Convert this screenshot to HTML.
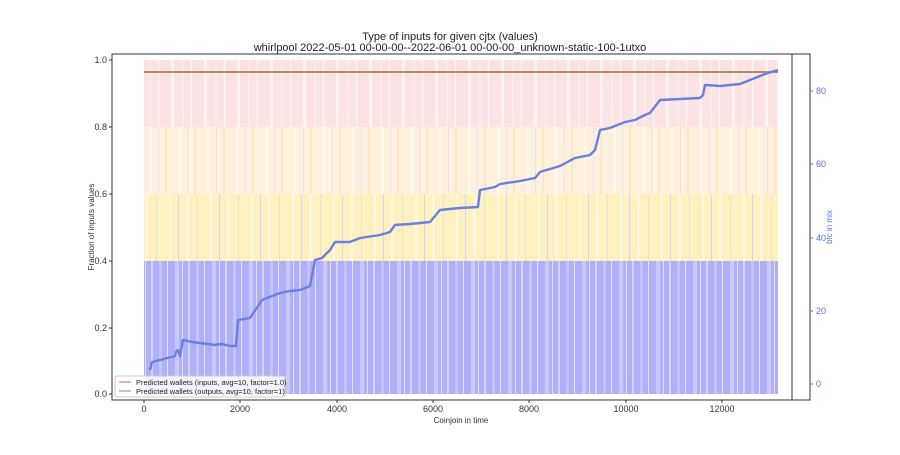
<!DOCTYPE html>
<html><head><meta charset="utf-8"><style>
body{margin:0;background:#fff;}
svg{font-family:"Liberation Sans","DejaVu Sans",sans-serif;}
</style></head><body>
<svg width="900" height="450" viewBox="0 0 900 450" xmlns="http://www.w3.org/2000/svg">
<defs>
<pattern id="pb" width="37" height="10" patternUnits="userSpaceOnUse">
<rect width="37" height="10" fill="#b0b0fa"/>
<rect x="3" width="2" height="10" fill="#d4d4fb"/><rect x="11" width="3" height="10" fill="#c4c4fb"/>
<rect x="19" width="1" height="10" fill="#e4e4fd"/><rect x="27" width="4" height="10" fill="#c8c8fb"/><rect x="34" width="1" height="10" fill="#e0e0fd"/>
</pattern>
<pattern id="py" width="41" height="10" patternUnits="userSpaceOnUse">
<rect width="41" height="10" fill="#fdf1c0"/>
<rect x="5" width="2" height="10" fill="#fdf8e0"/><rect x="14" width="1" height="10" fill="#d8d4ef"/>
<rect x="22" width="3" height="10" fill="#fbf6dc"/><rect x="33" width="1" height="10" fill="#eae2d0"/>
</pattern>
<pattern id="po" width="29" height="10" patternUnits="userSpaceOnUse">
<rect width="29" height="10" fill="#fdf0dc"/>
<rect x="4" width="3" height="10" fill="#fff8ea"/><rect x="13" width="1" height="10" fill="#e8e2f5"/>
<rect x="20" width="2" height="10" fill="#fbe6c8"/>
</pattern>
<pattern id="pp" width="33" height="10" patternUnits="userSpaceOnUse">
<rect width="33" height="10" fill="#fbe3e3"/>
<rect x="6" width="3" height="10" fill="#fdf1f1"/><rect x="17" width="2" height="10" fill="#fcebeb"/>
<rect x="26" width="1" height="10" fill="#fff8f8"/>
</pattern>
</defs>
<text x="450" y="40" font-size="11" text-anchor="middle" fill="#222">Type of inputs for given cjtx (values)</text>
<text x="450" y="51" font-size="11" text-anchor="middle" fill="#222">whirlpool 2022-05-01 00-00-00--2022-06-01 00-00-00_unknown-static-100-1utxo</text>
<rect x="144" y="60" width="634" height="67" fill="url(#pp)"/>
<rect x="144" y="127" width="634" height="67" fill="url(#po)"/>
<rect x="144" y="194" width="634" height="67" fill="url(#py)"/>
<rect x="144" y="261" width="634" height="133" fill="url(#pb)"/>
<line x1="144" y1="72" x2="778" y2="72" stroke="#a08050" stroke-width="1.8"/>
<polyline fill="none" stroke="#6a80e0" stroke-width="2.4" stroke-linejoin="round" points="150,370 152,362 160,360 175,356 176,352 178,350 180,356 183,340 192,342 200,343 215,345 222,344 230,346 236,346 238,320 250,318 262,300 280,293 290,291 300,290 310,286 315,260 322,258 330,250 335,242 350,242 360,238 380,235 390,232 395,225 410,224 430,222 440,210 460,208 478,207 480,190 495,187 500,184 520,181 535,178 540,172 560,166 575,158 590,155 595,150 600,130 610,128 625,122 635,120 645,115 650,113 660,100 680,99 700,98 703,95 705,85 720,86 740,84 745,82 760,76 765,74 778,70"/>
<rect x="112" y="54" width="698" height="346" fill="none" stroke="#333" stroke-width="1"/>
<line x1="792" y1="54" x2="792" y2="400" stroke="#333" stroke-width="1"/>
<g font-size="9" fill="#333" text-anchor="end">
<text x="107" y="63">1.0</text><line x1="109" y1="60" x2="112" y2="60" stroke="#333"/>
<text x="107" y="130">0.8</text><line x1="109" y1="127" x2="112" y2="127" stroke="#333"/>
<text x="107" y="197">0.6</text><line x1="109" y1="194" x2="112" y2="194" stroke="#333"/>
<text x="107" y="264">0.4</text><line x1="109" y1="261" x2="112" y2="261" stroke="#333"/>
<text x="107" y="331">0.2</text><line x1="109" y1="328" x2="112" y2="328" stroke="#333"/>
<text x="107" y="397">0.0</text><line x1="109" y1="394" x2="112" y2="394" stroke="#333"/>
</g>
<text x="94" y="227" font-size="8" fill="#333" text-anchor="middle" transform="rotate(-90 94 227)">Fraction of inputs values</text>
<g font-size="9" fill="#333" text-anchor="middle">
<text x="144" y="412">0</text><text x="240" y="412">2000</text><text x="337" y="412">4000</text>
<text x="433" y="412">6000</text><text x="529" y="412">8000</text><text x="626" y="412">10000</text><text x="722" y="412">12000</text>
<text x="461" y="423" font-size="8">Coinjoin in time</text>
</g>
<g stroke="#333"><line x1="144" y1="400" x2="144" y2="403"/><line x1="240" y1="400" x2="240" y2="403"/><line x1="337" y1="400" x2="337" y2="403"/><line x1="433" y1="400" x2="433" y2="403"/><line x1="529" y1="400" x2="529" y2="403"/><line x1="626" y1="400" x2="626" y2="403"/><line x1="722" y1="400" x2="722" y2="403"/></g>
<g font-size="9" fill="#5a6fe0">
<text x="816" y="387">0</text><text x="816" y="314">20</text><text x="816" y="241">40</text><text x="816" y="167">60</text><text x="816" y="94">80</text>
</g>
<g stroke="#5a6fe0"><line x1="810" y1="384" x2="813" y2="384"/><line x1="810" y1="311" x2="813" y2="311"/><line x1="810" y1="238" x2="813" y2="238"/><line x1="810" y1="164" x2="813" y2="164"/><line x1="810" y1="91" x2="813" y2="91"/></g>
<text x="832" y="227" font-size="8" fill="#5a6fe0" text-anchor="middle" transform="rotate(-90 832 227)">btc in mix</text>
<rect x="115" y="376" width="170" height="21" rx="2" fill="#fff" fill-opacity="0.85" stroke="#ccc"/>
<line x1="119" y1="382" x2="131" y2="382" stroke="#f08080" stroke-width="1.3"/>
<line x1="119" y1="391" x2="131" y2="391" stroke="#80c080" stroke-width="1.3"/>
<text x="136" y="385" font-size="7.5" fill="#222">Predicted wallets (inputs, avg=10, factor=1.0)</text>
<text x="136" y="394" font-size="7.5" fill="#222">Predicted wallets (outputs, avg=10, factor=1)</text>
</svg>
</body></html>
